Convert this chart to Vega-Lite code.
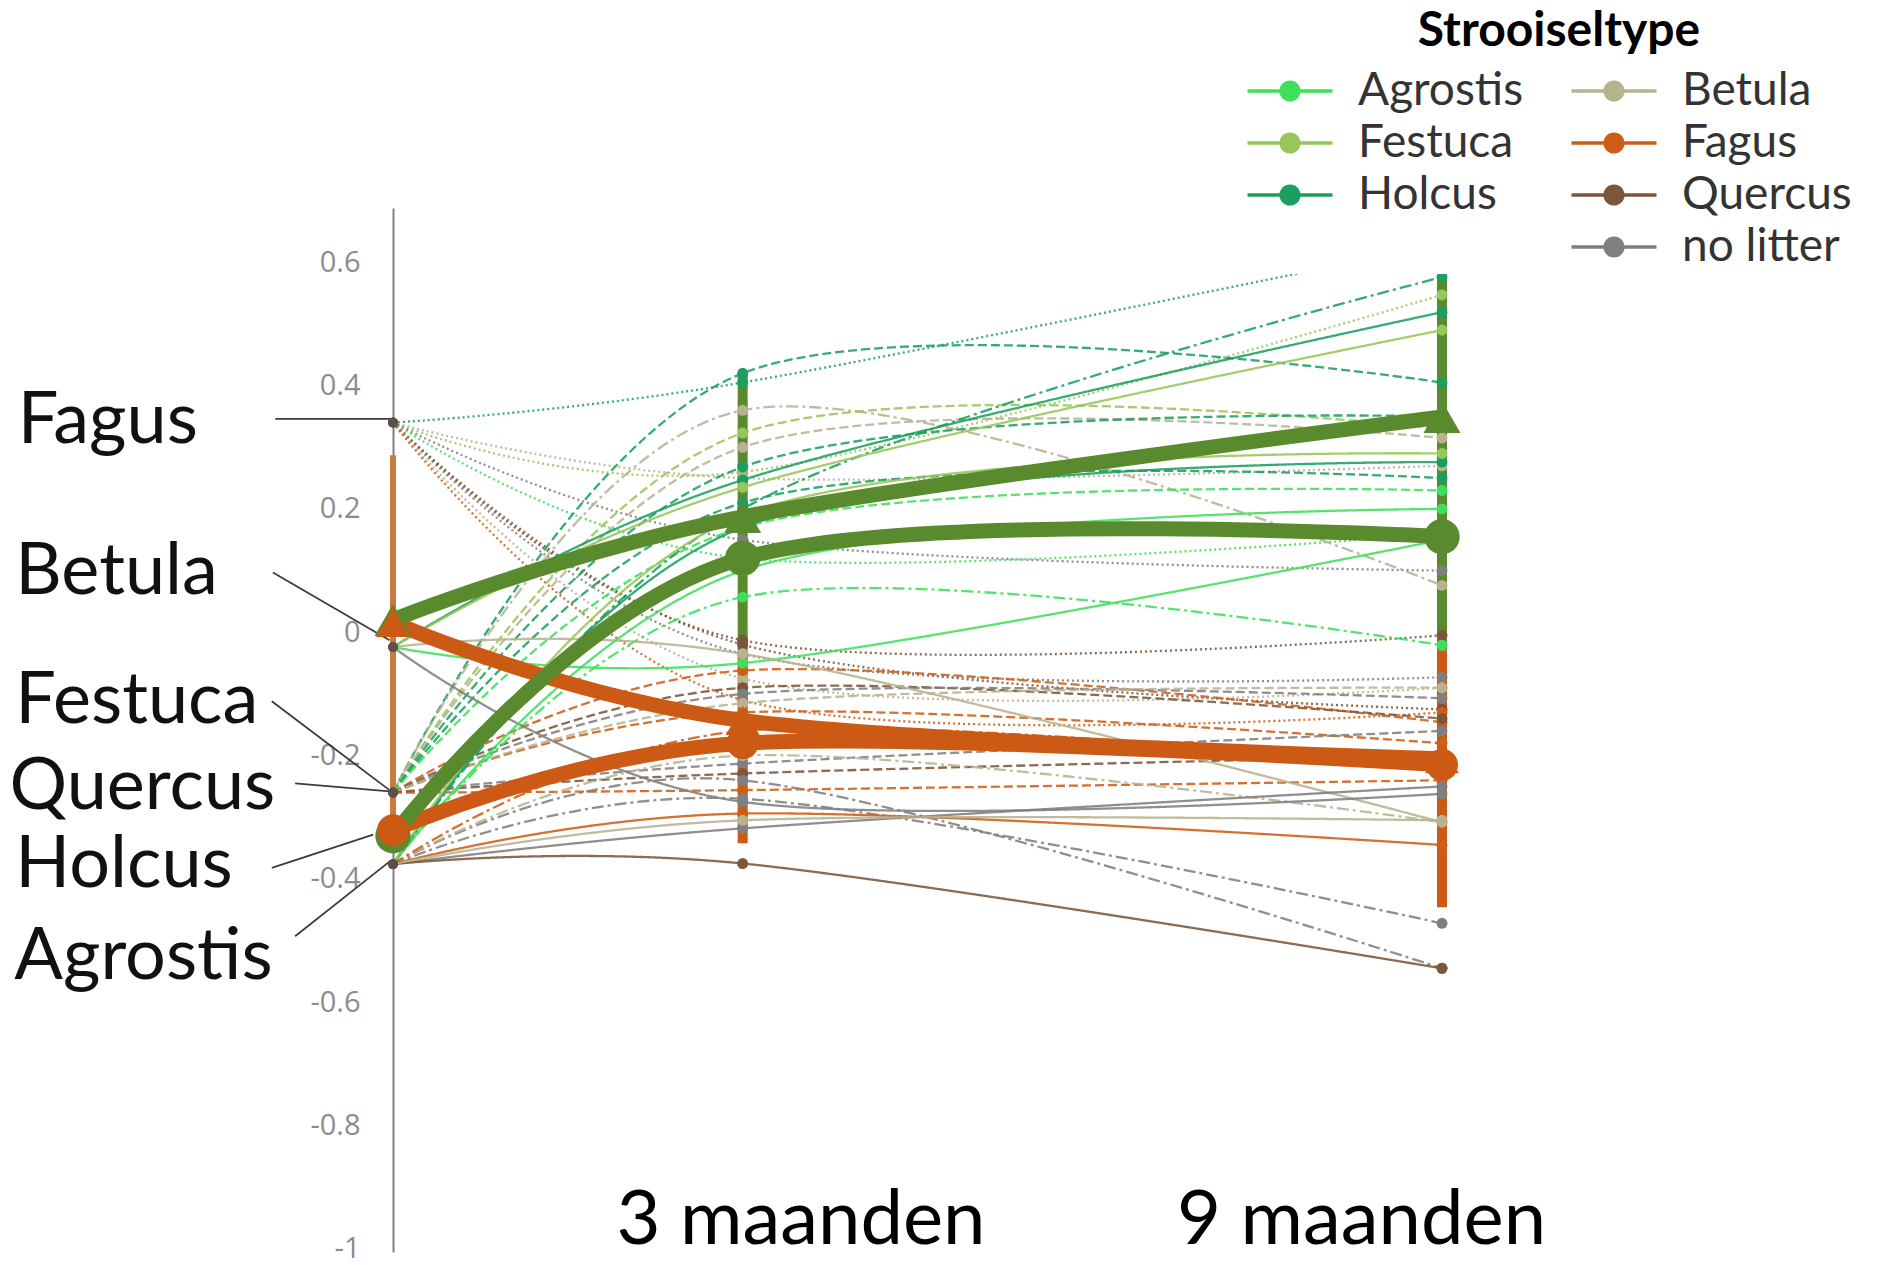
{
  "$schema": "https://vega.github.io/schema/vega-lite/v6.json",
  "width": 1049,
  "height": 1044,
  "autosize": {"type": "none"},
  "padding": {"left": 393, "top": 208, "right": 453, "bottom": 13},
  "background": "white",
  "config": {"view": {"stroke": null}, "font": "Lato"},
  "datasets": {
    "lines": [
      {"id":"P1","litter":"Holcus","style":"dotted","t":0,"v":0.34},{"id":"P1","litter":"Holcus","style":"dotted","t":3,"v":0.405},{"id":"P1","litter":"Holcus","style":"dotted","t":9,"v":0.63},
      {"id":"P2","litter":"Festuca","style":"dotted","t":0,"v":0.34},{"id":"P2","litter":"Festuca","style":"dotted","t":3,"v":0.26},{"id":"P2","litter":"Festuca","style":"dotted","t":9,"v":0.547},
      {"id":"P3","litter":"Betula","style":"dotted","t":0,"v":0.34},{"id":"P3","litter":"Betula","style":"dotted","t":3,"v":0.25},{"id":"P3","litter":"Betula","style":"dotted","t":9,"v":0.27},
      {"id":"P4","litter":"Agrostis","style":"dotted","t":0,"v":0.34},{"id":"P4","litter":"Agrostis","style":"dotted","t":3,"v":0.12},{"id":"P4","litter":"Agrostis","style":"dotted","t":9,"v":0.16},
      {"id":"P5","litter":"Quercus","style":"dotted","t":0,"v":0.34},{"id":"P5","litter":"Quercus","style":"dotted","t":3,"v":-0.013},{"id":"P5","litter":"Quercus","style":"dotted","t":9,"v":-0.005},
      {"id":"P6","litter":"Quercus","style":"dotted","t":0,"v":0.34},{"id":"P6","litter":"Quercus","style":"dotted","t":3,"v":-0.02},{"id":"P6","litter":"Quercus","style":"dotted","t":9,"v":-0.125},
      {"id":"P7","litter":"no litter","style":"dotted","t":0,"v":0.34},{"id":"P7","litter":"no litter","style":"dotted","t":3,"v":-0.035},{"id":"P7","litter":"no litter","style":"dotted","t":9,"v":-0.073},
      {"id":"P8","litter":"Betula","style":"dotted","t":0,"v":0.34},{"id":"P8","litter":"Betula","style":"dotted","t":3,"v":-0.075},{"id":"P8","litter":"Betula","style":"dotted","t":9,"v":-0.09},
      {"id":"P9","litter":"Fagus","style":"dotted","t":0,"v":0.34},{"id":"P9","litter":"Fagus","style":"dotted","t":3,"v":-0.11},{"id":"P9","litter":"Fagus","style":"dotted","t":9,"v":-0.13},
      {"id":"P10","litter":"no litter","style":"dotted","t":0,"v":0.34},{"id":"P10","litter":"no litter","style":"dotted","t":3,"v":0.15},{"id":"P10","litter":"no litter","style":"dotted","t":9,"v":0.10},
      {"id":"D1","litter":"Holcus","style":"dashed","t":0,"v":-0.26},{"id":"D1","litter":"Holcus","style":"dashed","t":3,"v":0.42},{"id":"D1","litter":"Holcus","style":"dashed","t":9,"v":0.405},
      {"id":"D2","litter":"Betula","style":"dashdot","t":0,"v":-0.26},{"id":"D2","litter":"Betula","style":"dashdot","t":3,"v":0.36},{"id":"D2","litter":"Betula","style":"dashdot","t":9,"v":0.076},
      {"id":"D3","litter":"Festuca","style":"dashed","t":0,"v":-0.26},{"id":"D3","litter":"Festuca","style":"dashed","t":3,"v":0.323},{"id":"D3","litter":"Festuca","style":"dashed","t":9,"v":0.33},
      {"id":"D4","litter":"Betula","style":"dashed","t":0,"v":-0.26},{"id":"D4","litter":"Betula","style":"dashed","t":3,"v":0.30},{"id":"D4","litter":"Betula","style":"dashed","t":9,"v":0.315},
      {"id":"D5","litter":"Holcus","style":"dashed","t":0,"v":-0.26},{"id":"D5","litter":"Holcus","style":"dashed","t":3,"v":0.268},{"id":"D5","litter":"Holcus","style":"dashed","t":9,"v":0.35},
      {"id":"D6","litter":"Holcus","style":"dashed","t":0,"v":-0.26},{"id":"D6","litter":"Holcus","style":"dashed","t":3,"v":0.21},{"id":"D6","litter":"Holcus","style":"dashed","t":9,"v":0.25},
      {"id":"D7","litter":"Agrostis","style":"dashed","t":0,"v":-0.26},{"id":"D7","litter":"Agrostis","style":"dashed","t":3,"v":0.17},{"id":"D7","litter":"Agrostis","style":"dashed","t":9,"v":0.23},
      {"id":"D8","litter":"Fagus","style":"dashed","t":0,"v":-0.26},{"id":"D8","litter":"Fagus","style":"dashed","t":3,"v":-0.062},{"id":"D8","litter":"Fagus","style":"dashed","t":9,"v":-0.146},
      {"id":"D9","litter":"Quercus","style":"dashed","t":0,"v":-0.26},{"id":"D9","litter":"Quercus","style":"dashed","t":3,"v":-0.09},{"id":"D9","litter":"Quercus","style":"dashed","t":9,"v":-0.14},
      {"id":"D10","litter":"no litter","style":"dashed","t":0,"v":-0.26},{"id":"D10","litter":"no litter","style":"dashed","t":3,"v":-0.10},{"id":"D10","litter":"no litter","style":"dashed","t":9,"v":-0.107},
      {"id":"D11","litter":"Fagus","style":"dashed","t":0,"v":-0.26},{"id":"D11","litter":"Fagus","style":"dashed","t":3,"v":-0.13},{"id":"D11","litter":"Fagus","style":"dashed","t":9,"v":-0.18},
      {"id":"D12","litter":"Betula","style":"dashed","t":0,"v":-0.26},{"id":"D12","litter":"Betula","style":"dashed","t":3,"v":-0.115},{"id":"D12","litter":"Betula","style":"dashed","t":9,"v":-0.09},
      {"id":"D13","litter":"no litter","style":"dashed","t":0,"v":-0.26},{"id":"D13","litter":"no litter","style":"dashed","t":3,"v":-0.213},{"id":"D13","litter":"no litter","style":"dashed","t":9,"v":-0.16},
      {"id":"D14","litter":"Quercus","style":"dashed","t":0,"v":-0.26},{"id":"D14","litter":"Quercus","style":"dashed","t":3,"v":-0.229},{"id":"D14","litter":"Quercus","style":"dashed","t":9,"v":-0.20},
      {"id":"D15","litter":"Fagus","style":"dashed","t":0,"v":-0.26},{"id":"D15","litter":"Fagus","style":"dashed","t":3,"v":-0.256},{"id":"D15","litter":"Fagus","style":"dashed","t":9,"v":-0.24},
      {"id":"X1","litter":"Holcus","style":"dashdot","t":0,"v":-0.376},{"id":"X1","litter":"Holcus","style":"dashdot","t":3,"v":0.20},{"id":"X1","litter":"Holcus","style":"dashdot","t":9,"v":0.576},
      {"id":"X2","litter":"Agrostis","style":"dashdot","t":0,"v":-0.376},{"id":"X2","litter":"Agrostis","style":"dashdot","t":3,"v":0.057},{"id":"X2","litter":"Agrostis","style":"dashdot","t":9,"v":-0.021},
      {"id":"X3","litter":"no litter","style":"dashdot","t":0,"v":-0.376},{"id":"X3","litter":"no litter","style":"dashdot","t":3,"v":-0.27},{"id":"X3","litter":"no litter","style":"dashdot","t":9,"v":-0.472},
      {"id":"X4","litter":"no litter","style":"dashdot","t":0,"v":-0.376},{"id":"X4","litter":"no litter","style":"dashdot","t":3,"v":-0.24},{"id":"X4","litter":"no litter","style":"dashdot","t":9,"v":-0.545},
      {"id":"X5","litter":"Betula","style":"dashdot","t":0,"v":-0.376},{"id":"X5","litter":"Betula","style":"dashdot","t":3,"v":-0.2},{"id":"X5","litter":"Betula","style":"dashdot","t":9,"v":-0.308},
      {"id":"X6","litter":"Fagus","style":"dashdot","t":0,"v":-0.376},{"id":"X6","litter":"Fagus","style":"dashdot","t":3,"v":-0.16},{"id":"X6","litter":"Fagus","style":"dashdot","t":9,"v":-0.22},
      {"id":"S1","litter":"Holcus","style":"solid","t":0,"v":-0.024},{"id":"S1","litter":"Holcus","style":"solid","t":3,"v":0.247},{"id":"S1","litter":"Holcus","style":"solid","t":9,"v":0.519},
      {"id":"S2","litter":"Festuca","style":"solid","t":0,"v":-0.024},{"id":"S2","litter":"Festuca","style":"solid","t":3,"v":0.235},{"id":"S2","litter":"Festuca","style":"solid","t":9,"v":0.49},
      {"id":"S3","litter":"Agrostis","style":"solid","t":0,"v":-0.024},{"id":"S3","litter":"Agrostis","style":"solid","t":3,"v":-0.05},{"id":"S3","litter":"Agrostis","style":"solid","t":9,"v":0.15},
      {"id":"S4","litter":"Betula","style":"solid","t":0,"v":-0.024},{"id":"S4","litter":"Betula","style":"solid","t":3,"v":-0.035},{"id":"S4","litter":"Betula","style":"solid","t":9,"v":-0.308},
      {"id":"S5","litter":"no litter","style":"solid","t":0,"v":-0.024},{"id":"S5","litter":"no litter","style":"solid","t":3,"v":-0.275},{"id":"S5","litter":"no litter","style":"solid","t":9,"v":-0.262},
      {"id":"S6","litter":"Agrostis","style":"solid","t":0,"v":-0.376},{"id":"S6","litter":"Agrostis","style":"solid","t":3,"v":0.10},{"id":"S6","litter":"Agrostis","style":"solid","t":9,"v":0.20},
      {"id":"S7","litter":"Holcus","style":"solid","t":0,"v":-0.376},{"id":"S7","litter":"Holcus","style":"solid","t":3,"v":0.17},{"id":"S7","litter":"Holcus","style":"solid","t":9,"v":0.276},
      {"id":"S8","litter":"Festuca","style":"solid","t":0,"v":-0.376},{"id":"S8","litter":"Festuca","style":"solid","t":3,"v":0.19},{"id":"S8","litter":"Festuca","style":"solid","t":9,"v":0.29},
      {"id":"S9","litter":"Fagus","style":"solid","t":0,"v":-0.376},{"id":"S9","litter":"Fagus","style":"solid","t":3,"v":-0.294},{"id":"S9","litter":"Fagus","style":"solid","t":9,"v":-0.345},
      {"id":"S10","litter":"no litter","style":"solid","t":0,"v":-0.376},{"id":"S10","litter":"no litter","style":"solid","t":3,"v":-0.318},{"id":"S10","litter":"no litter","style":"solid","t":9,"v":-0.25},
      {"id":"S11","litter":"Quercus","style":"solid","t":0,"v":-0.376},{"id":"S11","litter":"Quercus","style":"solid","t":3,"v":-0.375},{"id":"S11","litter":"Quercus","style":"solid","t":9,"v":-0.545},
      {"id":"S12","litter":"Betula","style":"solid","t":0,"v":-0.376},{"id":"S12","litter":"Betula","style":"solid","t":3,"v":-0.305},{"id":"S12","litter":"Betula","style":"solid","t":9,"v":-0.305}
    ],
    "thick": [
      {"id":"gras1","grp":"gras","t":0,"v":0.02},{"id":"gras1","grp":"gras","t":3,"v":0.187},{"id":"gras1","grp":"gras","t":9,"v":0.349},
      {"id":"gras2","grp":"gras","t":0,"v":-0.33},{"id":"gras2","grp":"gras","t":3,"v":0.12},{"id":"gras2","grp":"gras","t":9,"v":0.155},
      {"id":"boom1","grp":"boom","t":0,"v":0.016},{"id":"boom1","grp":"boom","t":3,"v":-0.143},{"id":"boom1","grp":"boom","t":9,"v":-0.205},
      {"id":"boom2","grp":"boom","t":0,"v":-0.321},{"id":"boom2","grp":"boom","t":3,"v":-0.18},{"id":"boom2","grp":"boom","t":9,"v":-0.215}
    ],
    "bars": [
      {"t":0,"v":0.287,"v2":-0.33,"grp":"basis"},
      {"t":3,"v":0.418,"v2":-0.03,"grp":"gras"},
      {"t":3,"v":-0.03,"v2":-0.342,"grp":"boom"},
      {"t":9,"v":0.576,"v2":-0.03,"grp":"gras"},
      {"t":9,"v":-0.03,"v2":-0.446,"grp":"boom"}
    ],
    "leaders": [
      {"name":"Fagus","t":-1.01,"v":0.346},{"name":"Fagus","t":-0.02,"v":0.346},
      {"name":"Betula","t":-1.03,"v":0.097},{"name":"Betula","t":-0.03,"v":-0.013},
      {"name":"Festuca","t":-1.04,"v":-0.112},{"name":"Festuca","t":-0.03,"v":-0.256},
      {"name":"Quercus","t":-0.84,"v":-0.245},{"name":"Quercus","t":-0.03,"v":-0.258},
      {"name":"Holcus","t":-1.04,"v":-0.382},{"name":"Holcus","t":-0.17,"v":-0.328},
      {"name":"Agrostis","t":-0.84,"v":-0.493},{"name":"Agrostis","t":-0.03,"v":-0.372}
    ],
    "labels": [
      {"name":"Fagus","t":-3.22,"v":0.343},
      {"name":"Betula","t":-3.24,"v":0.098},
      {"name":"Festuca","t":-3.24,"v":-0.112},
      {"name":"Quercus","t":-3.29,"v":-0.251},
      {"name":"Holcus","t":-3.24,"v":-0.378},
      {"name":"Agrostis","t":-3.25,"v":-0.527}
    ],
    "xlabels": [
      {"name":"3 maanden","t":3.5,"v":-0.955},
      {"name":"9 maanden","t":8.31,"v":-0.955}
    ]
  },
  "encoding": {
    "x": {"field": "t", "type": "quantitative", "scale": {"domain": [0, 9], "nice": false, "zero": false}, "axis": null},
    "y": {"field": "v", "type": "quantitative", "scale": {"domain": [-1.005, 0.688], "nice": false, "zero": false},
      "axis": {"values": [-1, -0.8, -0.6, -0.4, -0.2, 0, 0.2, 0.4, 0.6],
        "labelExpr": "datum.value < 0 ? '-' + format(-datum.value, '~g') : format(datum.value, '~g')",
        "ticks": false, "grid": false, "domainColor": "#808080", "domainWidth": 2,
        "labelColor": "#8c8c8c", "labelFont": "Open Sans", "labelFontSize": 29, "labelPadding": 33, "title": null}}
  },
  "layer": [
    {
      "data": {"name": "leaders"},
      "mark": {"type": "line", "color": "#3c3c3c", "strokeWidth": 1.8},
      "encoding": {"detail": {"field": "name"}}
    },
    {
      "data": {"name": "bars"},
      "transform": [{"filter": "datum.t == 0"}],
      "mark": {"type": "rule", "strokeWidth": 6},
      "encoding": {
        "y2": {"field": "v2"},
        "color": {"field": "grp", "type": "nominal", "scale": {"domain": ["gras", "boom", "basis"], "range": ["#5a8a2e", "#cc5a14", "#c97b3e"]}, "legend": null}
      }
    },
    {
      "data": {"name": "lines"},
      "mark": {"type": "line", "interpolate": "cardinal", "strokeWidth": 2.3, "opacity": 0.88},
      "encoding": {
        "detail": {"field": "id"},
        "stroke": {"field": "litter", "type": "nominal",
          "scale": {"domain": ["Agrostis", "Betula", "Festuca", "Fagus", "Holcus", "Quercus", "no litter"],
            "range": ["#3fdf5c", "#b7b38f", "#98c659", "#cd5e17", "#1a9f60", "#7b563a", "#7f7f7f"]}, "legend": null},
        "strokeDash": {"field": "style", "type": "nominal",
          "scale": {"domain": ["solid", "dashed", "dotted", "dashdot"], "range": [[1, 0], [9, 4], [2, 3], [12, 4, 3, 4]]}, "legend": null}
      }
    },
    {
      "data": {"name": "bars"},
      "transform": [{"filter": "datum.t > 0"}],
      "mark": {"type": "rule", "strokeWidth": 10},
      "encoding": {
        "y2": {"field": "v2"},
        "color": {"field": "grp", "type": "nominal", "scale": {"domain": ["gras", "boom", "basis"], "range": ["#5a8a2e", "#cc5a14", "#c97b3e"]}, "legend": null}
      }
    },
    {
      "data": {"name": "lines"},
      "transform": [{"filter": "datum.t > 0"}],
      "mark": {"type": "point", "filled": true, "size": 120, "opacity": 1},
      "encoding": {
        "fill": {"field": "litter", "type": "nominal",
          "scale": {"domain": ["Agrostis", "Festuca", "Holcus", " ", "Betula", "Fagus", "Quercus", "no litter"],
            "range": ["#3fdf5c", "#98c659", "#1a9f60", "rgba(0,0,0,0)", "#b7b38f", "#cd5e17", "#7b563a", "#7f7f7f"]},
          "legend": {"title": "Strooiseltype", "orient": "none", "legendX": 870, "legendY": -204, "columns": 2,
            "symbolType": "M-2.125,-0.085H2.125V0.085H-2.125Z M0.53,0A0.53,0.53,0,1,1,-0.53,0A0.53,0.53,0,1,1,0.53,0Z",
            "symbolSize": 1600, "symbolStrokeWidth": 0, "symbolOpacity": 1,
            "labelFont": "Lato", "labelFontSize": 46, "labelColor": "#333333", "labelOffset": 45, "labelLimit": 400,
            "titleFont": "Lato", "titleFontSize": 48, "titleFontWeight": "bold", "titleColor": "#000000", "titleAnchor": "middle", "titlePadding": 12, "titleLimit": 800,
            "columnPadding": 47, "rowPadding": 6, "fillColor": "white", "padding": 4}}
      }
    },
    {
      "data": {"name": "lines"},
      "transform": [{"filter": "datum.t == 0"}],
      "mark": {"type": "point", "filled": true, "size": 90, "color": "#5d5048", "opacity": 1}
    },
    {
      "data": {"name": "thick"},
      "transform": [{"filter": "datum.grp == 'boom'"}],
      "mark": {"type": "line", "interpolate": "cardinal", "strokeWidth": 15, "strokeCap": "round"},
      "encoding": {
        "detail": {"field": "id"},
        "color": {"field": "grp", "type": "nominal", "scale": {"domain": ["gras", "boom", "basis"], "range": ["#5a8a2e", "#cc5a14", "#c97b3e"]}, "legend": null}
      }
    },
    {
      "data": {"name": "thick"},
      "transform": [{"filter": "datum.grp == 'gras'"}],
      "mark": {"type": "line", "interpolate": "cardinal", "strokeWidth": 15, "strokeCap": "round"},
      "encoding": {
        "detail": {"field": "id"},
        "color": {"field": "grp", "type": "nominal", "scale": {"domain": ["gras", "boom", "basis"], "range": ["#5a8a2e", "#cc5a14", "#c97b3e"]}, "legend": null}
      }
    },
    {
      "data": {"name": "thick"},
      "mark": {"type": "point", "filled": true, "opacity": 1},
      "encoding": {
        "color": {"field": "grp", "type": "nominal", "scale": {"domain": ["gras", "boom", "basis"], "range": ["#5a8a2e", "#cc5a14", "#c97b3e"]}, "legend": null},
        "shape": {"field": "id", "type": "nominal", "scale": {"domain": ["gras1", "gras2", "boom1", "boom2"], "range": ["triangle-up", "circle", "triangle-up", "circle"]}, "legend": null},
        "size": {"field": "id", "type": "nominal", "scale": {"domain": ["gras1", "gras2", "boom1", "boom2"], "range": [1370, 1024, 1370, 1024]}, "legend": null}
      }
    },
    {
      "data": {"name": "labels"},
      "mark": {"type": "text", "align": "left", "baseline": "middle", "font": "Lato", "fontSize": 72, "color": "#111111"},
      "encoding": {"text": {"field": "name"}}
    },
    {
      "data": {"name": "xlabels"},
      "mark": {"type": "text", "align": "center", "baseline": "middle", "font": "Lato", "fontSize": 76, "color": "#000000"},
      "encoding": {"text": {"field": "name"}}
    }
  ]
}
